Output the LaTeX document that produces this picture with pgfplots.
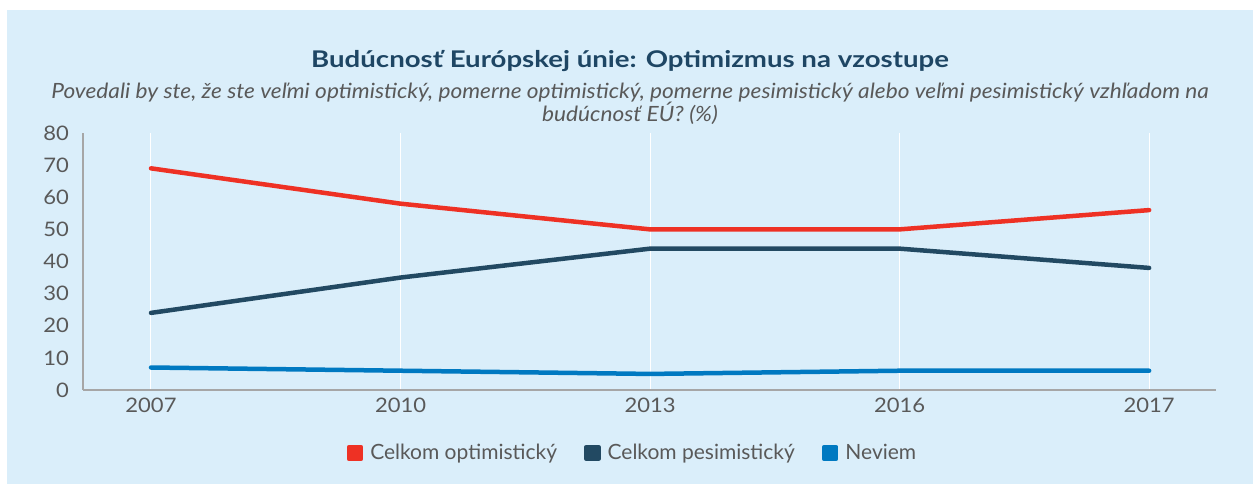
\documentclass[border=0pt]{standalone}
\usepackage{pgfplots}
\pgfplotsset{compat=1.18}
\usepackage{fontspec}
\setmainfont{Lato}
\newfontfamily\titlefont[FakeStretch=1.2]{Lato}
\newfontfamily\subfont[FakeStretch=1.08]{Lato}
\newfontfamily\tickfont[FakeStretch=1.1]{Lato}

\definecolor{bgcol}{HTML}{DAEEFA}
\definecolor{titlecol}{HTML}{1E4664}
\definecolor{txtgray}{HTML}{595959}
\definecolor{axgray}{HTML}{A6A6A6}
\definecolor{optred}{HTML}{EE3124}
\definecolor{pesnavy}{HTML}{224962}
\definecolor{dkblue}{HTML}{0079C1}

\begin{document}
\begin{tikzpicture}
\path[use as bounding box, fill=white] (0,0) rectangle (1253pt,484pt);
\fill[bgcol] (7pt,0) rectangle (1253pt,474pt);

\node[anchor=base, text=titlecol, font=\titlefont\bfseries\fontsize{23}{27}\selectfont] at (630pt,416pt)
  {Budúcnosť Európskej únie: Optimizmus na vzostupe};
\node[anchor=base, text=txtgray, font=\subfont\itshape\fontsize{21}{25}\selectfont] at (630pt,385pt)
  {Povedali by ste, že ste veľmi optimistický, pomerne optimistický, pomerne pesimistický alebo veľmi pesimistický vzhľadom na};
\node[anchor=base, text=txtgray, font=\subfont\itshape\fontsize{21}{25}\selectfont] at (630pt,362pt)
  {budúcnosť EÚ? (\%)};

\begin{axis}[
  at={(83pt,94pt)}, anchor=south west,
  scale only axis,
  width=1133pt, height=257pt,
  xmin=-0.2725, xmax=4.268,
  ymin=0, ymax=80,
  xtick=data,
  xticklabels={2007,2010,2013,2016,2017},
  ytick={0,10,...,80},
  axis x line=bottom, axis y line=left,
  axis line style={draw=axgray, line width=2.5pt, -},
  major tick length=0pt,
  xmajorgrids=true,
  grid style={white, line width=1pt},
  tick label style={text=txtgray, font=\tickfont\fontsize{20}{24}\selectfont, inner sep=0pt},
  x tick label style={anchor=north, yshift=-8pt},
  y tick label style={anchor=east, xshift=-14pt},
  /pgf/number format/assume math mode=true,
  legend columns=-1,
  legend style={at={(0.485,-0.245)}, anchor=center, draw=none, fill=none,
    text=txtgray, font=\fontsize{21}{25}\selectfont,
    /tikz/every odd column/.append style={column sep=5pt},
    /tikz/every even column/.append style={column sep=25pt}},
  legend image code/.code={\fill (0pt,-6pt) rectangle (12pt,6pt);},
  every axis plot/.append style={line width=4.5pt, line join=round, line cap=round},
]
\addplot[color=optred] coordinates {(0,69) (1,58) (2,50) (3,50) (4,56)};
\addplot[color=pesnavy] coordinates {(0,24) (1,35) (2,44) (3,44) (4,38)};
\addplot[color=dkblue] coordinates {(0,7) (1,6) (2,5) (3,6) (4,6)};
\legend{Celkom optimistický, Celkom pesimistický, Neviem}
\end{axis}
\end{tikzpicture}
\end{document}
